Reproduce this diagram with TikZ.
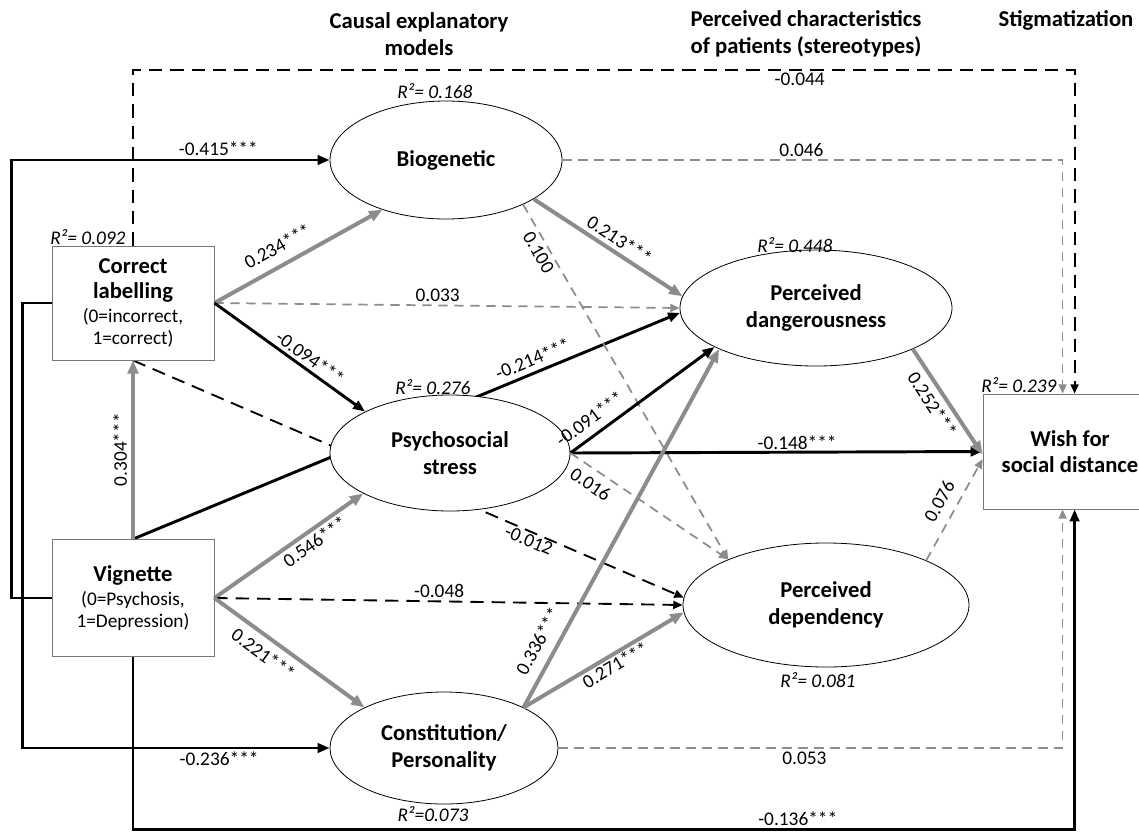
\documentclass[tikz,border=0pt]{standalone}
\usepackage{fontspec}
\setmainfont{Carlito}
\usetikzlibrary{arrows.meta,shapes.geometric,backgrounds}

\definecolor{pathgray}{RGB}{140,140,140}
\definecolor{boxgray}{RGB}{120,120,120}

\tikzset{every picture/.style={line width=0.75pt}}
\tikzset{
  latent/.style={draw, ellipse, fill=white, line width=0.6pt, inner sep=0pt, align=center,
    font=\fontsize{17}{20}\selectfont\bfseries},
  observed/.style={draw=boxgray, rectangle, fill=white, line width=0.6pt, inner sep=0pt, align=center,
    font=\fontsize{14.5}{16.5}\selectfont},
  header/.style={align=center, font=\fontsize{17}{20}\selectfont\bfseries},
  coef/.style={font=\fontsize{14.5}{16}\selectfont, inner sep=2pt},
  rsq/.style={font=\fontsize{14.5}{16}\selectfont\itshape, inner sep=1pt},
  blkpath/.style={line width=2.2pt, draw=black, -{Triangle[length=9pt,width=7pt]}},
  graypath/.style={line width=3pt, color=pathgray, -{Triangle[length=10pt,width=8pt]}},
  blkdash/.style={line width=1.4pt, draw=black, dash pattern=on 10pt off 6pt, -{Triangle[length=7pt,width=6pt]}},
  graydash/.style={line width=1.3pt, color=pathgray, dash pattern=on 7pt off 5pt, -{Triangle[length=7pt,width=6pt]}}
}
\newcommand{\boldline}[1]{{\fontsize{17}{20}\selectfont\bfseries #1}}

\begin{document}
\begin{tikzpicture}[x=0.75pt,y=-0.75pt]
\useasboundingbox (0,0) rectangle (1139,836);

% Headers
\node[header] (hcause) at (419,34) {Causal explanatory\\models};
\node[header] (hstereo) at (806,34) {Perceived characteristics\\of patients (stereotypes)};
\node[header] (hstigma) at (1066,20) {Stigmatization};

% Observed variables
\node[observed, minimum width=121.5pt, minimum height=85.5pt] (lab) at (133,303) {\boldline{Correct}\\[2pt]\boldline{labelling}\\[2pt](0=incorrect,\\1=correct)};
\node[observed, minimum width=121.5pt, minimum height=87.75pt] (vig) at (133,598) {\boldline{Vignette}\\[2pt](0=Psychosis,\\1=Depression)};
\node[observed, minimum width=130.5pt, minimum height=86.25pt] (wish) at (1070,451.5) {\boldline{Wish for}\\[3pt]\boldline{social distance}};

% Causal explanatory models
\node[latent, minimum width=174pt, minimum height=88.5pt] (bio) at (446,160) {Biogenetic};
\node[latent, minimum width=180pt, minimum height=87pt] (psy) at (450,453) {Psychosocial\\stress};
\node[latent, minimum width=171pt, minimum height=84pt] (con) at (444,748) {Constitution/\\Personality};

% Stereotypes
\node[latent, minimum width=204pt, minimum height=87pt] (dan) at (816,308) {Perceived\\dangerousness};
\node[latent, minimum width=214.5pt, minimum height=93pt] (dep) at (826,605) {Perceived\\dependency};

% R squared
\node[rsq] (rlab) at (88,237) {R²= 0.092};
\node[rsq] (rbio) at (435,91) {R²= 0.168};
\node[rsq] (rpsy) at (433,387) {R²= 0.276};
\node[rsq] (rcon) at (433,814) {R²=0.073};
\node[rsq] (rdan) at (795,245) {R²= 0.448};
\node[rsq] (rdep) at (818,680) {R²= 0.081};
\node[rsq] (rwish) at (1019,385) {R²= 0.239};

% Paths behind the psychosocial ellipse
\begin{pgfonlayer}{background}
\draw[blkpath] (vig.north) -- (dan.182) node[coef,sloped,above=2pt,pos=0.74] {-0.214***};
\draw[blkdash] (lab.south) -- (dep.177) node[coef,sloped,below=-1pt,pos=0.725] {-0.012};
\end{pgfonlayer}

% Outer paths
\draw[blkpath] (vig.west) -- ++(-40,0) |- (bio.west) node[coef,pos=0.825,above] {-0.415***};
\draw[blkpath] (lab.west) -- ++(-29,0) |- (con.west) node[coef,pos=0.82,below] {-0.236***};
\draw[blkdash] (lab.north) -- ++(0,-176) -| ([xshift=69pt]wish.north west) node[coef,pos=0.354,below] {-0.044};
\draw[graydash] (bio.east) -| ([xshift=60pt]wish.north west) node[coef,pos=0.239,above,black] {0.046};
\draw[graydash] (con.east) -| ([xshift=60pt]wish.south west) node[coef,pos=0.244,below,black] {0.053};
\draw[blkpath] (vig.south) -- ++(0,173) -| ([xshift=69pt]wish.south west) node[coef,pos=0.353,above] {-0.136***};

% Correct labelling
\draw[graypath] (lab.east) -- (bio.218) node[coef,sloped,above=5.5pt,pos=0.43,black] {0.234***};
\draw[graydash] (lab.east) -- (dan.west) node[coef,above=0pt,pos=0.48,black] {0.033};
\draw[blkpath] (lab.east) -- (psy.154) node[coef,sloped,above=0.5pt,pos=0.59] {-0.094***};

% Vignette
\draw[graypath] (vig.north) -- (lab.south) node[coef,sloped,above=1pt,pos=0.5,black] {0.304***};
\draw[graypath] (vig.east) -- (psy.205) node[coef,sloped,below=0pt,pos=0.63,black] {0.546***};
\draw[blkdash] (vig.east) -- (dep.west) node[coef,above=0pt,pos=0.48] {-0.048};
\draw[graypath] (vig.east) -- (con.153) node[coef,sloped,below=3.5pt,pos=0.39,black] {0.221***};

% Biogenetic
\draw[graypath] (bio.-24) -- (dan.175) node[coef,sloped,above=1pt,pos=0.53,black] {0.213***};
\draw[graydash] (bio.-30) -- (dep.155) node[coef,sloped,below=0.5pt,pos=0.12,black] {0.100};

% Psychosocial stress
\draw[blkpath] (psy.east) -- (dan.201) node[coef,sloped,above=4pt,pos=0.2] {-0.091***};
\draw[blkpath] (psy.east) -- (wish.west) node[coef,above=-1pt,pos=0.55] {-0.148***};
\draw[graydash] (psy.east) -- (dep.155) node[coef,sloped,below=3.5pt,pos=0.18,black] {0.016};

% Constitution/Personality
\draw[graypath] (con.27) -- (dan.203) node[coef,sloped,above=5.7pt,pos=0.16,black] {0.336***};
\draw[graypath] (con.27) -- (dep.183) node[coef,sloped,below=-1pt,pos=0.54,black] {0.271***};

% Stereotypes to social distance
\draw[graypath] (dan.-23) -- (wish.182) node[coef,sloped,below=2pt,pos=0.45,black] {0.252***};
\draw[graydash] (dep.24) -- (wish.185) node[coef,sloped,above=5.3pt,pos=0.5,black] {0.076};

\end{tikzpicture}
\end{document}
